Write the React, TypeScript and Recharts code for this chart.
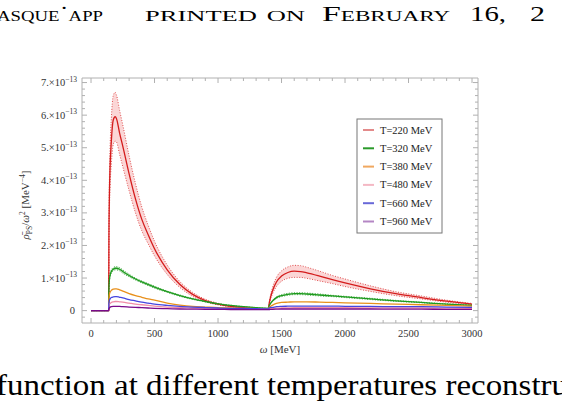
import React from 'react';
import { ComposedChart, Line, Area, XAxis, YAxis } from 'recharts';

// omega in MeV; spectral values in units of 1e-13 MeV^-4
const omega = [0, 100, 139, 141, 145, 150, 160, 175, 190, 200, 225, 250, 300, 350, 400, 450, 500, 600, 700, 800, 900, 1000, 1100, 1200, 1300, 1399, 1401, 1410, 1430, 1460, 1500, 1550, 1600, 1650, 1700, 1800, 1900, 2000, 2200, 2400, 2600, 2800, 3000];

const t220 = [0, 0, 0, 2.2, 3.6, 4.4, 5.2, 5.85, 5.95, 5.9, 5.45, 5.05, 4.2, 3.43, 2.8, 2.33, 1.9, 1.25, 0.8, 0.5, 0.31, 0.2, 0.13, 0.09, 0.065, 0.05, 0.15, 0.35, 0.62, 0.88, 1.06, 1.17, 1.21, 1.2, 1.16, 1.06, 0.95, 0.85, 0.67, 0.52, 0.4, 0.29, 0.2];
const t220Hi = [0, 0, 0, 2.5, 4.1, 5.0, 5.9, 6.6, 6.7, 6.62, 6.15, 5.7, 4.75, 3.9, 3.18, 2.62, 2.13, 1.4, 0.89, 0.56, 0.35, 0.225, 0.145, 0.1, 0.072, 0.057, 0.17, 0.4, 0.72, 1.02, 1.22, 1.34, 1.39, 1.38, 1.33, 1.21, 1.08, 0.97, 0.76, 0.58, 0.45, 0.32, 0.22];
const t220Lo = [0, 0, 0, 1.9, 3.1, 3.8, 4.5, 5.1, 5.2, 5.18, 4.8, 4.42, 3.68, 3.0, 2.45, 2.05, 1.68, 1.11, 0.71, 0.44, 0.27, 0.175, 0.115, 0.08, 0.058, 0.045, 0.13, 0.3, 0.52, 0.74, 0.9, 0.99, 1.02, 1.02, 0.99, 0.91, 0.83, 0.74, 0.59, 0.46, 0.36, 0.26, 0.18];

const t320 = [0, 0, 0, 0.7, 0.95, 1.08, 1.2, 1.27, 1.3, 1.3, 1.27, 1.2, 1.08, 0.97, 0.88, 0.8, 0.72, 0.58, 0.46, 0.36, 0.28, 0.21, 0.16, 0.12, 0.09, 0.07, 0.12, 0.2, 0.3, 0.4, 0.46, 0.5, 0.52, 0.52, 0.51, 0.48, 0.45, 0.42, 0.36, 0.3, 0.25, 0.2, 0.16];
const t320Hi = [0, 0, 0, 0.73, 0.99, 1.13, 1.25, 1.32, 1.35, 1.35, 1.32, 1.25, 1.12, 1.0, 0.91, 0.83, 0.75, 0.6, 0.48, 0.375, 0.29, 0.22, 0.165, 0.125, 0.094, 0.073, 0.13, 0.215, 0.32, 0.425, 0.49, 0.53, 0.55, 0.55, 0.54, 0.51, 0.47, 0.44, 0.38, 0.315, 0.26, 0.21, 0.17];
const t320Lo = [0, 0, 0, 0.67, 0.91, 1.03, 1.15, 1.22, 1.25, 1.25, 1.22, 1.15, 1.04, 0.94, 0.85, 0.77, 0.69, 0.56, 0.44, 0.345, 0.27, 0.2, 0.155, 0.115, 0.086, 0.067, 0.11, 0.185, 0.28, 0.375, 0.43, 0.47, 0.49, 0.49, 0.48, 0.45, 0.43, 0.4, 0.34, 0.285, 0.24, 0.19, 0.15];

const t380 = [0, 0, 0, 0.35, 0.5, 0.56, 0.62, 0.66, 0.67, 0.67, 0.64, 0.6, 0.52, 0.46, 0.41, 0.36, 0.32, 0.23, 0.17, 0.13, 0.11, 0.09, 0.08, 0.07, 0.06, 0.05, 0.08, 0.12, 0.17, 0.22, 0.25, 0.26, 0.27, 0.27, 0.27, 0.26, 0.25, 0.24, 0.22, 0.2, 0.18, 0.16, 0.14];
const t480 = [0, 0, 0, 0.15, 0.2, 0.22, 0.25, 0.27, 0.28, 0.28, 0.27, 0.26, 0.23, 0.2, 0.18, 0.16, 0.14, 0.11, 0.09, 0.08, 0.07, 0.06, 0.055, 0.05, 0.045, 0.04, 0.05, 0.055, 0.065, 0.075, 0.08, 0.085, 0.09, 0.09, 0.09, 0.09, 0.09, 0.09, 0.085, 0.08, 0.08, 0.075, 0.07];
const t660 = [0, 0, 0, 0.25, 0.32, 0.36, 0.4, 0.42, 0.43, 0.43, 0.41, 0.39, 0.34, 0.3, 0.26, 0.23, 0.2, 0.16, 0.13, 0.11, 0.095, 0.08, 0.07, 0.065, 0.06, 0.05, 0.07, 0.09, 0.1, 0.12, 0.13, 0.135, 0.14, 0.14, 0.14, 0.14, 0.14, 0.13, 0.13, 0.12, 0.12, 0.11, 0.1];
const t960 = [0, 0, 0, 0.06, 0.08, 0.1, 0.12, 0.13, 0.13, 0.13, 0.13, 0.12, 0.11, 0.1, 0.09, 0.08, 0.07, 0.06, 0.05, 0.045, 0.04, 0.04, 0.035, 0.035, 0.03, 0.03, 0.03, 0.035, 0.04, 0.045, 0.05, 0.05, 0.05, 0.05, 0.05, 0.05, 0.05, 0.05, 0.05, 0.045, 0.045, 0.04, 0.04];

const legendLabels = ['T=220 MeV', 'T=320 MeV', 'T=380 MeV', 'T=480 MeV', 'T=660 MeV', 'T=960 MeV'];
const xMajorTicks = [0, 500, 1000, 1500, 2000, 2500, 3000];
const yMajorTicks = [0, 1, 2, 3, 4, 5, 6, 7];

const headerWords = ['asque\u02d9app', 'printed on', 'February', '16,', '2'];
const footerText = 'function at different temperatures reconstru';

const series = [
  { key: 't220', values: t220, line: '#d41c1c', legend: '#e38a8a' },
  { key: 't320', values: t320, line: '#1e9a1e', legend: '#2a9a2a' },
  { key: 't380', values: t380, line: '#e8901c', legend: '#f0a860' },
  { key: 't480', values: t480, line: '#f08ca8', legend: '#f4b8c4' },
  { key: 't660', values: t660, line: '#4646e0', legend: '#6868d8' },
  { key: 't960', values: t960, line: '#7a0a8a', legend: '#b486c4' },
];

const data = omega.map((w, i) => {
  const row: any = { omega: w, t220Band: [t220Lo[i], t220Hi[i]], t220Hi: t220Hi[i], t220Lo: t220Lo[i], t320Band: [t320Lo[i], t320Hi[i]], t320Hi: t320Hi[i], t320Lo: t320Lo[i] };
  series.forEach((s) => { row[s.key] = s.values[i]; });
  return row;
});

const xMinor: number[] = [];
for (let v = 0; v <= 3000; v += 100) xMinor.push(v);
const yMinor: number[] = [];
for (let k = -1; k <= 35; k++) yMinor.push(Math.round(k * 20) / 100);

const FRAME = '#b0b0b0';
const LABEL = '#333';
const FONT = '"Liberation Serif", "DejaVu Serif", serif';

const W = 562;
const H = 402;
const PLOT_L = 82;
const PLOT_R = 478;
const PLOT_T = 78;
const PLOT_B = 323;
const LEFT_W = 78;
const BOTTOM_H = 30;
const TOP_H = 8;
const RIGHT_W = 8;

const isMajorX = (v: number) => xMajorTicks.includes(v);
const isMajorY = (v: number) => yMajorTicks.some((t) => Math.abs(t - v) < 1e-6);

const BottomTick = (p: any) => {
  const v = p.payload.value;
  const maj = isMajorX(v);
  return (
    <g>
      <line x1={p.x} x2={p.x} y1={p.y} y2={p.y - (maj ? 5 : 3)} stroke={FRAME} />
      {maj && (
        <text x={p.x} y={p.y + 14} textAnchor="middle" fontSize={10.5} fontFamily={FONT} fill={LABEL}>{v}</text>
      )}
    </g>
  );
};
const TopTick = (p: any) => {
  const v = p.payload.value;
  const maj = isMajorX(v);
  return <line x1={p.x} x2={p.x} y1={p.y} y2={p.y + (maj ? 5 : 3)} stroke={FRAME} />;
};
const LeftTick = (p: any) => {
  const v = p.payload.value;
  const maj = isMajorY(v);
  return (
    <g>
      <line x1={p.x} x2={p.x + (maj ? 5 : 3)} y1={p.y} y2={p.y} stroke={FRAME} />
      {maj && (v === 0 ? (
        <text x={p.x - 7} y={p.y + 3.5} textAnchor="end" fontSize={10.5} fontFamily={FONT} fill={LABEL}>0</text>
      ) : (
        <text x={p.x - 5} y={p.y + 3.5} textAnchor="end" fontSize={10.5} fontFamily={FONT} fill={LABEL}>
          {Math.round(v) + '.\u00d710'}
          <tspan dy={-4.5} fontSize={7.5}>{'\u221213'}</tspan>
        </text>
      ))}
    </g>
  );
};
const RightTick = (p: any) => {
  const v = p.payload.value;
  const maj = isMajorY(v);
  return <line x1={p.x} x2={p.x - (maj ? 5 : 3)} y1={p.y} y2={p.y} stroke={FRAME} />;
};

const headerPos = [
  { x: -3, len: 106 },
  { x: 145, len: 160 },
  { x: 322, len: 128 },
  { x: 470, len: 36 },
  { x: 530, len: 15 },
];

export default function App() {
  return (
    <div style={{ position: 'fixed', left: 0, top: 0, width: W, height: H, background: '#fff', overflow: 'hidden' }}>
      <div style={{ position: 'absolute', left: 0, top: 0 }}>
        <ComposedChart
          width={W}
          height={H}
          data={data}
          margin={{ top: PLOT_T - TOP_H, right: W - PLOT_R - RIGHT_W, bottom: H - PLOT_B - BOTTOM_H, left: PLOT_L - LEFT_W }}
        >
          <XAxis xAxisId="b" dataKey="omega" type="number" domain={[-71, 3047]} allowDataOverflow ticks={xMinor} interval={0} tick={BottomTick} tickLine={false} tickSize={0} tickMargin={0} height={BOTTOM_H} axisLine={{ stroke: FRAME }} />
          <XAxis xAxisId="t" orientation="top" dataKey="omega" type="number" domain={[-71, 3047]} allowDataOverflow ticks={xMinor} interval={0} tick={TopTick} tickLine={false} tickSize={0} tickMargin={0} height={TOP_H} axisLine={{ stroke: FRAME }} />
          <YAxis yAxisId="l" type="number" domain={[-0.38, 7.14]} allowDataOverflow ticks={yMinor} interval={0} tick={LeftTick} tickLine={false} tickSize={0} tickMargin={0} width={LEFT_W} axisLine={{ stroke: FRAME }} />
          <YAxis yAxisId="r" orientation="right" type="number" domain={[-0.38, 7.14]} allowDataOverflow ticks={yMinor} interval={0} tick={RightTick} tickLine={false} tickSize={0} tickMargin={0} width={RIGHT_W} axisLine={{ stroke: FRAME }} />

          <Area xAxisId="b" yAxisId="l" type="monotone" dataKey="t220Band" fill="#f7b5b5" fillOpacity={0.55} stroke="none" isAnimationActive={false} />
          <Area xAxisId="b" yAxisId="l" type="monotone" dataKey="t320Band" fill="#a8dca8" fillOpacity={0.5} stroke="none" isAnimationActive={false} />
          <Line xAxisId="b" yAxisId="l" type="monotone" dataKey="t220Hi" stroke="#e05050" strokeWidth={1} strokeDasharray="1 1.6" dot={false} isAnimationActive={false} />
          <Line xAxisId="b" yAxisId="l" type="monotone" dataKey="t220Lo" stroke="#e05050" strokeWidth={1} strokeDasharray="1 1.6" dot={false} isAnimationActive={false} />
          <Line xAxisId="b" yAxisId="l" type="monotone" dataKey="t320Hi" stroke="#40a840" strokeWidth={1} strokeDasharray="1 1.6" dot={false} isAnimationActive={false} />
          <Line xAxisId="b" yAxisId="l" type="monotone" dataKey="t320Lo" stroke="#40a840" strokeWidth={1} strokeDasharray="1 1.6" dot={false} isAnimationActive={false} />
          {series.map((s) => (
            <Line key={s.key} xAxisId="b" yAxisId="l" type="monotone" dataKey={s.key} stroke={s.line} strokeWidth={1.3} dot={false} isAnimationActive={false} />
          ))}
        </ComposedChart>
      </div>
      <svg width={W} height={H} style={{ position: 'absolute', left: 0, top: 0, pointerEvents: 'none' }}>
        {headerWords.map((w, i) => (
          <text key={w} x={headerPos[i].x} y={21} fontFamily={FONT} fontSize={22} fill="#000" textLength={headerPos[i].len} lengthAdjust="spacingAndGlyphs" style={{ fontVariant: 'small-caps' }}>
            {w}
          </text>
        ))}
        <text x={-4} y={395} fontFamily={FONT} fontSize={29} fill="#000" textLength={572} lengthAdjust="spacingAndGlyphs">
          {footerText}
        </text>
        <text x={(PLOT_L + PLOT_R) / 2} y={353} textAnchor="middle" fontFamily={FONT} fontSize={11} fill={LABEL}>
          <tspan fontStyle="italic">{'\u03c9'}</tspan>
          <tspan>{' [MeV]'}</tspan>
        </text>
        <text transform="translate(29,205) rotate(-90)" textAnchor="middle" fontFamily={FONT} fontSize={11} fill={LABEL}>
          <tspan fontStyle="italic">{'\u03c1\u0304'}</tspan>
          <tspan dy={2.5} fontSize={7.5}>PS</tspan>
          <tspan dy={-2.5}>/</tspan>
          <tspan fontStyle="italic">{'\u03c9'}</tspan>
          <tspan dy={-4} fontSize={7.5}>2</tspan>
          <tspan dy={4}>{' [MeV'}</tspan>
          <tspan dy={-4} fontSize={7.5}>{'\u22124'}</tspan>
          <tspan dy={4}>]</tspan>
        </text>
        <rect x={357} y={119} width={85} height={114} fill="#fff" stroke="#777" strokeWidth={1} />
        {legendLabels.map((lab, i) => (
          <g key={lab}>
            <line x1={363} x2={374} y1={130 + i * 18.3} y2={130 + i * 18.3} stroke={series[i].legend} strokeWidth={2} />
            <text x={380} y={133.5 + i * 18.3} fontFamily={FONT} fontSize={10.5} fill="#222">{lab}</text>
          </g>
        ))}
      </svg>
    </div>
  );
}
